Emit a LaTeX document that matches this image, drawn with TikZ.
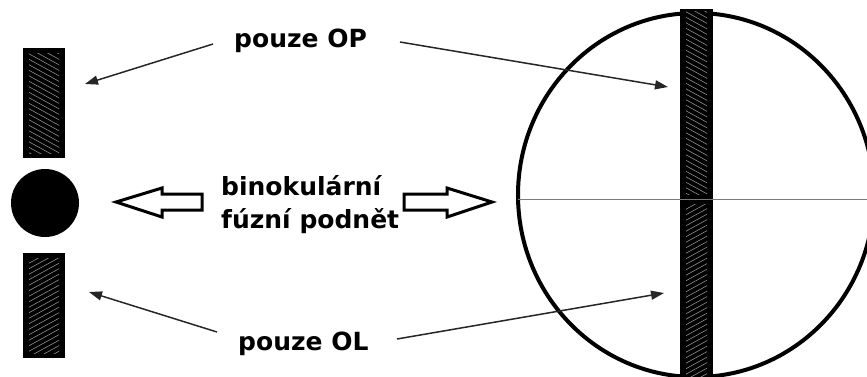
\documentclass[tikz,border=0pt]{standalone}
\usepackage{fontspec}
\setmainfont{DejaVu Sans}
\usetikzlibrary{arrows.meta}

\definecolor{hatchgray}{HTML}{8E8E8E}
\definecolor{axisgray}{HTML}{7A7A7A}

\tikzset{
  lbl/.style={font=\fontsize{25}{30}\selectfont\bfseries, inner sep=0pt, anchor=base west},
  pointer/.style={line width=1.5pt, draw=black!85, -{Triangle[length=13pt,width=9pt]}},
  barfill/.style={fill=black},
  hatch/.style={draw=hatchgray, line width=0.6pt},
  hollow/.style={draw=black, line width=3pt, fill=white, line join=miter},
  ring/.style={draw=black, line width=4pt},
  axis/.style={draw=axisgray, line width=1pt},
}

% hatched fill inside a black bar: x1 y1 x2 y2 slope
\newcommand\hatchbox[5]{%
  \begin{scope}
    \clip ({#1+6},{#2+5}) rectangle ({#3-6},{#4-5});
    \foreach \k [evaluate=\k as \t using #2-25+5.5*\k] in {0,...,78}
      \draw[hatch] ({#1},{\t}) -- ({#3},{\t+(#5)*(#3-#1)});
  \end{scope}%
}

\begin{document}
\begin{tikzpicture}[x=1pt, y=-1pt]
  \useasboundingbox (0,0) rectangle (867,376);
  \clip (0,0) rectangle (867,376);

  % left: the two monocular bars and the fused dot
  \fill[barfill] (23,48) rectangle (65,158);
  \hatchbox{23}{48}{65}{158}{0.55}
  \fill[barfill] (23,253) rectangle (65,358);
  \hatchbox{23}{253}{65}{358}{-0.55}
  \fill[black] (45,203) circle[radius=34];
  \coordinate (barTop) at (85,84);
  \coordinate (barBot) at (89,292);

  % right: field of view with the vertical bar
  \draw[ring] (696,195) ellipse[x radius=178, y radius=182];
  \fill[barfill] (680,9) rectangle (713,390);
  \hatchbox{680}{6}{713}{199}{0.55}
  \hatchbox{680}{199}{713}{392}{-0.55}
  \coordinate (fieldW) at (518,199);
  \coordinate (fieldE) at (867,199);
  \draw[axis] (fieldW) -- (fieldE);
  \coordinate (stripTop) at (668,87);
  \coordinate (stripBot) at (664,293);

  % labels
  \node[lbl] (op) at (234,47) {pouze OP};
  \node[lbl] (ol) at (238,350) {pouze OL};
  \node[lbl] (fuse1) at (221,195) {binokulární};
  \node[lbl] (fuse2) at (221,228) {fúzní podnět};

  % pointers from the labels
  \coordinate (opL) at (213,44);
  \coordinate (opR) at (400,42);
  \coordinate (olL) at (217,332);
  \coordinate (olR) at (397,339);
  \draw[pointer] (opL) -- (barTop);
  \draw[pointer] (opR) -- (stripTop);
  \draw[pointer] (olL) -- (barBot);
  \draw[pointer] (olR) -- (stripBot);

  % hollow block arrows from the fusion label
  \draw[hollow] (116,202) -- (162,188) -- (162,194) -- (202,194) -- (202,210)
                -- (162,210) -- (162,217) -- cycle;
  \draw[hollow] (404,194) -- (447,194) -- (447,188) -- (492,202) -- (447,217)
                -- (447,210) -- (404,210) -- cycle;
\end{tikzpicture}
\end{document}
